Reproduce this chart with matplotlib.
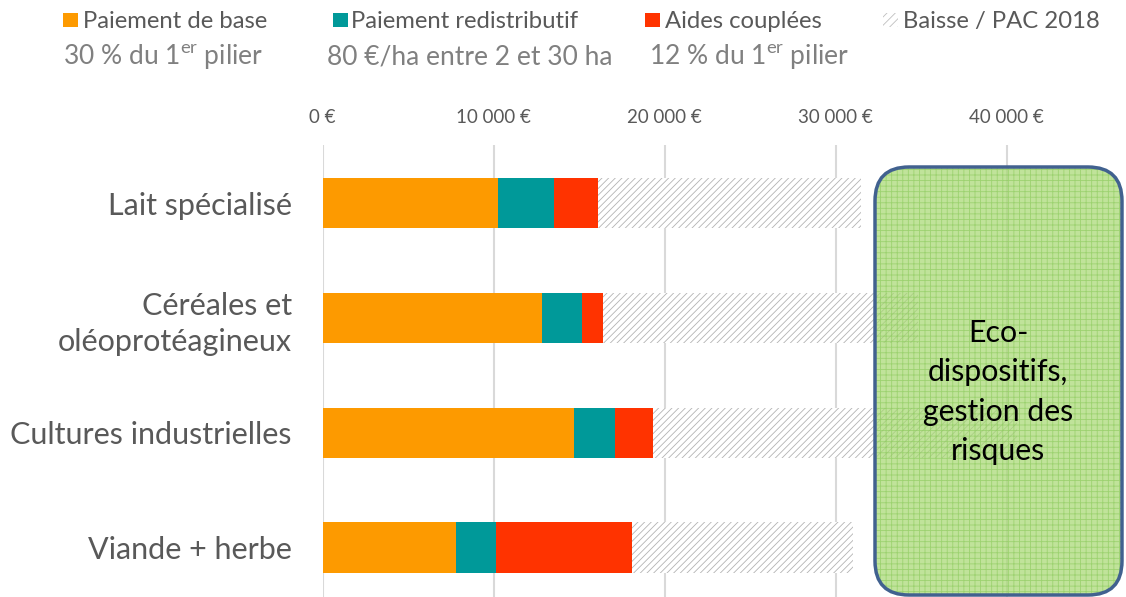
import matplotlib.pyplot as plt
import matplotlib.transforms as mtransforms
from matplotlib.patches import FancyBboxPatch, Rectangle
import numpy as np

# ---------------------------------------------------------------------------
# Data (euros per farm)
categories = ['Lait spécialisé',
              'Céréales et\noléoprotéagineux',
              'Cultures industrielles',
              'Viande + herbe']

paiement_base = [10260, 12850, 14720, 7780]
paiement_redistributif = [3250, 2310, 2360, 2380]
aides_couplees = [2600, 1260, 2250, 7960]
baisse_pac_2018 = [15380, 18400, 21270, 12880]

tick_values = [0, 10000, 20000, 30000, 40000]
tick_labels = ['0 €', '10 000 €', '20 000 €', '30 000 €', '40 000 €']

legend_labels = ['Paiement de base', 'Paiement redistributif',
                 'Aides couplées', 'Baisse / PAC 2018']
legend_notes = ['30 % du 1$^{\\mathrm{er}}$ pilier',
                '80 €/ha entre 2 et 30 ha',
                '12 % du 1$^{\\mathrm{er}}$ pilier',
                '']
box_text = 'Eco-\ndispositifs,\ngestion des\nrisques'
# ---------------------------------------------------------------------------

ORANGE = '#fd9a00'
TEAL = '#009999'
RED = '#ff3300'
HATCH_GREY = '#b3b3b3'
TEXT_GREY = '#595959'
NOTE_GREY = '#808080'

plt.rcParams['font.family'] = ['Lato', 'DejaVu Sans']
plt.rcParams['mathtext.fontset'] = 'custom'
plt.rcParams['mathtext.rm'] = 'Lato'
plt.rcParams['hatch.linewidth'] = 0.6

W, H = 1126, 597
fig = plt.figure(figsize=(W / 100, H / 100), dpi=100)

# axes placed in pixels: x from 322.5 to right edge, y from 145 to bottom
ax = fig.add_axes([322.5 / W, 0, 1 - 322.5 / W, (H - 145) / H])

y_pos = np.arange(len(categories))
bar_h = 0.44

left = np.zeros(len(categories))
for vals, col in [(paiement_base, ORANGE),
                  (paiement_redistributif, TEAL),
                  (aides_couplees, RED)]:
    ax.barh(y_pos, vals, height=bar_h, left=left, color=col,
            edgecolor='none', zorder=3)
    left += np.array(vals)

ax.barh(y_pos, baisse_pac_2018, height=bar_h, left=left, color='white',
        edgecolor=HATCH_GREY, linewidth=0, hatch='/////', zorder=3)

ax.set_xlim(0, (W - 322.5) / 171 * 10000)
ax.set_ylim(3.43, -0.506)

ax.xaxis.tick_top()
ax.set_xticks(tick_values)
ax.set_xticklabels(tick_labels, fontsize=13.5, color=TEXT_GREY)
ax.tick_params(axis='x', length=0, pad=14)
ax.set_yticks(y_pos)
ax.set_yticklabels(categories, fontsize=22, color=TEXT_GREY,
                   linespacing=1.35)
ax.tick_params(axis='y', length=0, pad=22)

ax.grid(axis='x', color='#d9d9d9', linewidth=1.5, zorder=0)
for s in ax.spines.values():
    s.set_visible(False)

# ---------------------------------------------------------------------------
# Legend drawn by hand (two text lines per entry)
px = mtransforms.IdentityTransform()
sq_x = [63, 333, 645, 883]
txt_x = [83, 351, 665, 903]
note_x = [63, 327, 649, 0]
fills = [ORANGE, TEAL, RED, None]
for i, lab in enumerate(legend_labels):
    if fills[i] is not None:
        fig.patches.append(Rectangle((sq_x[i], H - 27), 15, 14,
                                     facecolor=fills[i], edgecolor='none',
                                     transform=px, figure=fig))
    else:
        fig.patches.append(Rectangle((sq_x[i], H - 27), 15, 14,
                                     facecolor='white', edgecolor='#bfbfbf',
                                     linewidth=0, hatch='////',
                                     transform=px, figure=fig))
    fig.text(txt_x[i] / W, 1 - 28 / H, lab, fontsize=17.2, color=TEXT_GREY,
             va='baseline', ha='left')
    if legend_notes[i]:
        fig.text(note_x[i] / W, 1 - 65 / H, legend_notes[i], fontsize=19,
                 color=NOTE_GREY, va='baseline', ha='left')

# ---------------------------------------------------------------------------
# Rounded green box on the right (semi-transparent, bars show through)
bx, by, bw, bh = 875, H - 595, 247, 428
fig.patches.append(FancyBboxPatch((bx, by), bw, bh,
                                  boxstyle='round,pad=0,rounding_size=34',
                                  facecolor=(0.66, 0.85, 0.45, 0.72),
                                  edgecolor=(0.52, 0.78, 0.33, 0.6),
                                  linewidth=0, hatch='+++',
                                  transform=px, figure=fig))
fig.patches.append(FancyBboxPatch((bx, by), bw, bh,
                                  boxstyle='round,pad=0,rounding_size=34',
                                  facecolor='none', edgecolor='#41618f',
                                  linewidth=2.5, transform=px, figure=fig))
fig.text(998 / W, 1 - 392 / H, box_text, fontsize=21.8, color='black',
         ha='center', va='center', linespacing=1.5)

fig.savefig('out.png', dpi=100)
